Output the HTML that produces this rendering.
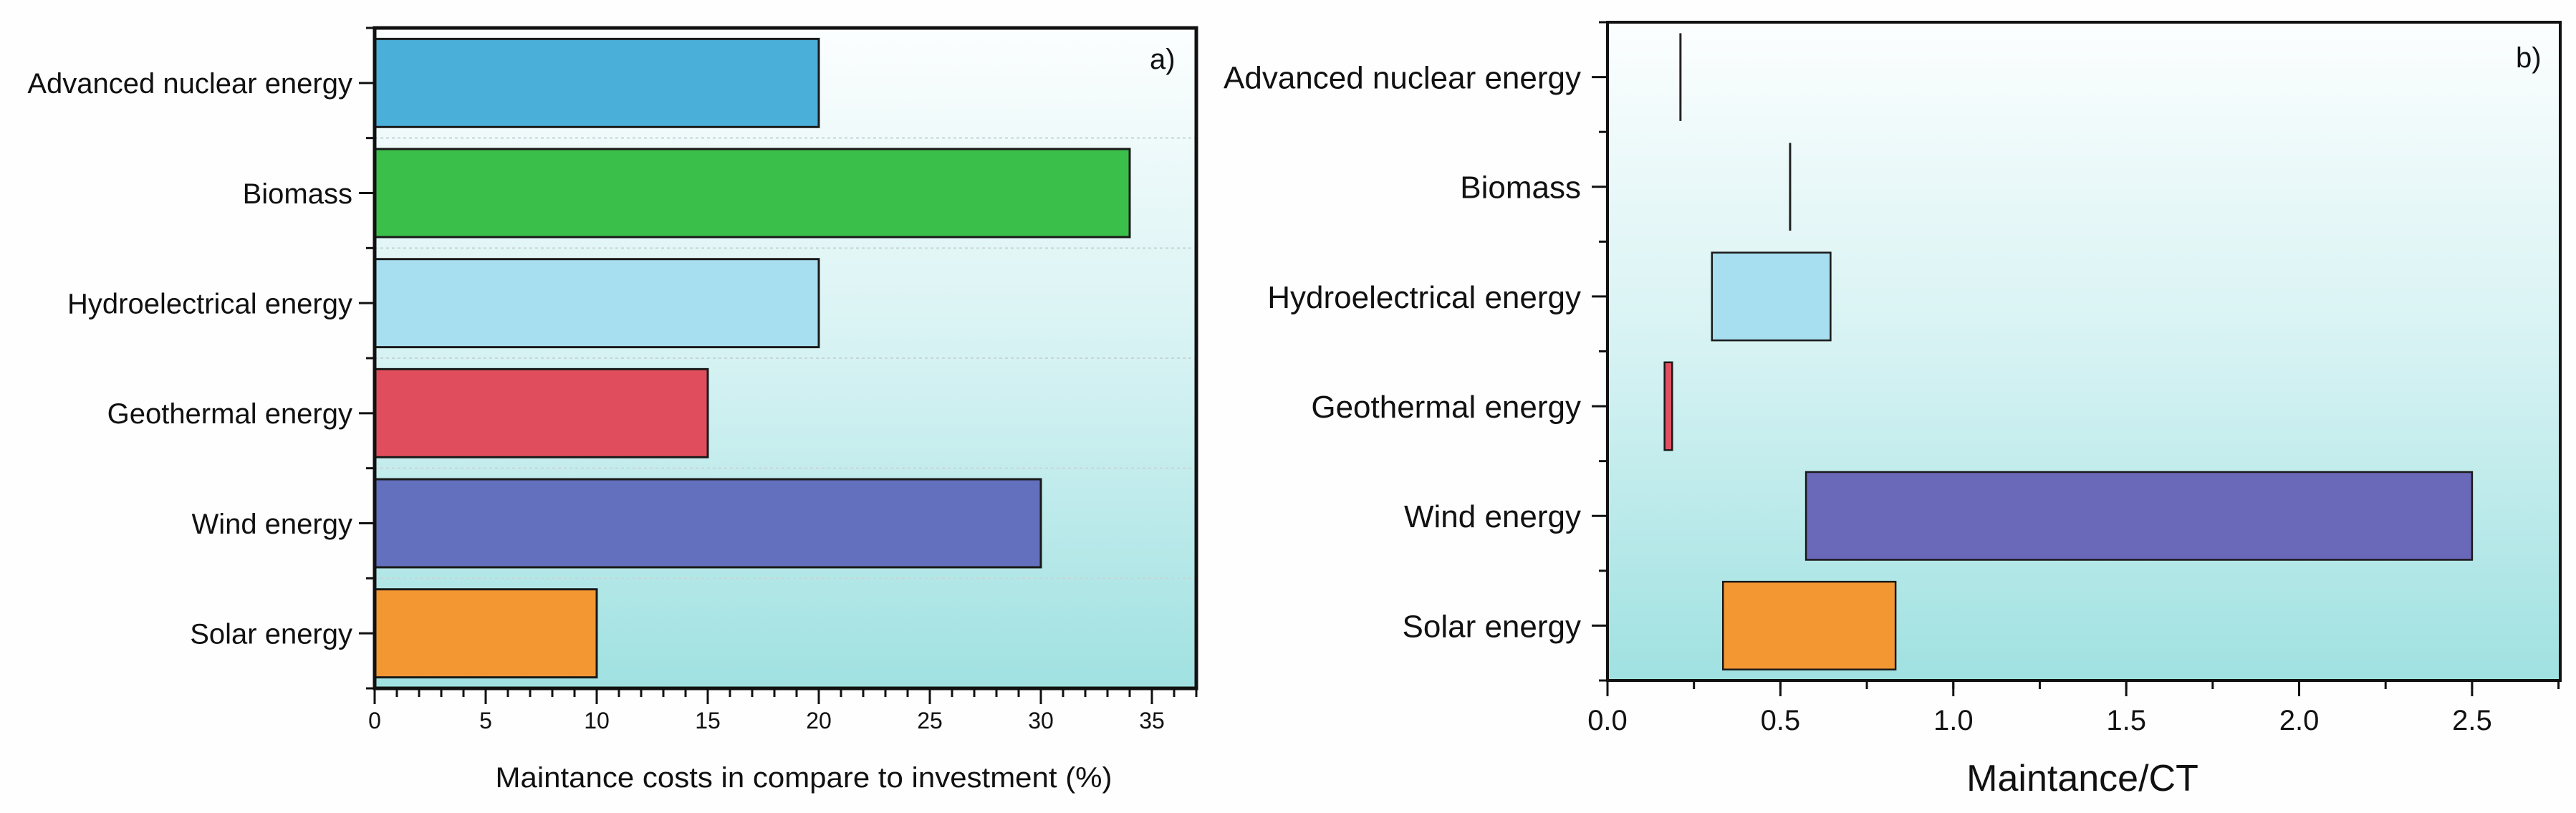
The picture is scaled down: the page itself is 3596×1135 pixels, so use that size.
<!DOCTYPE html>
<html><head><meta charset="utf-8">
<style>
html,body{margin:0;padding:0;background:#fefefe;}
svg{display:block;font-family:"Liberation Sans",Arial,sans-serif;}
</style></head>
<body>
<svg id="chart" width="3596" height="1135" viewBox="0 0 3596 1135" xmlns="http://www.w3.org/2000/svg">
<defs>
<linearGradient id="bg" x1="0" y1="0" x2="0" y2="1">
<stop offset="0" stop-color="#fcfefe"/>
<stop offset="0.5" stop-color="#d6f2f3"/>
<stop offset="1" stop-color="#a0e1e1"/>
</linearGradient>
</defs>
</svg>
<script>
const categories = ["Advanced nuclear energy","Biomass","Hydroelectrical energy","Geothermal energy","Wind energy","Solar energy"];
const costPercent = [20, 34, 20, 15, 30, 10];
const ratioLow = [0.211, 0.528, 0.302, 0.165, 0.574, 0.334];
const ratioHigh = [0.211, 0.528, 0.645, 0.187, 2.5, 0.833];
const leftTicks = [0, 5, 10, 15, 20, 25, 30, 35];
const rightTicks = [0.0, 0.5, 1.0, 1.5, 2.0, 2.5];
const leftColors = ["#4aafd9","#3bbf4b","#a8dff0","#e04e5e","#6370bd","#f39733"];
const rightColors = ["#4aafd9","#3bbf4b","#a8dff0","#e05060","#6a68b8","#f39733"];

const NS = "http://www.w3.org/2000/svg";
const svg = document.getElementById("chart");
function mk(tag, attrs, parent){
  const e = document.createElementNS(NS, tag);
  for (const k in attrs) e.setAttribute(k, attrs[k]);
  (parent||svg).appendChild(e);
  return e;
}

function panel(cfg){
  const g = mk("g", {});
  
  
  const {x0,x1,y0,y1,xmax} = cfg;
  const sx = v => x0 + v/xmax*(x1-x0);
  const band = (y1-y0)/categories.length;
  const sy = i => y0 + band*(i+0.5);
  const bg = mk("rect",{x:x0,y:y0,width:x1-x0,height:y1-y0,fill:"url(#bg)"},g);
  
  
  if (cfg.separators){
    for (let i=1;i<categories.length;i++){
      const l = mk("line",{x1:x0,x2:x1,y1:y0+band*i,y2:y0+band*i,stroke:"#c8d4d6","stroke-width":2,"stroke-dasharray":"4 4"},g);
      
      
    }
  }
  categories.forEach((c,i)=>{
    const lo = cfg.lo[i], hi = cfg.hi[i];
    const bh = band*0.8;
    const yc = sy(i);
    if (hi - lo < 1e-6){
      const l = mk("line",{x1:sx(lo),x2:sx(lo),y1:yc-bh/2,y2:yc+bh/2,stroke:"#222","stroke-width":3},g);
      
      
    } else {
      const r = mk("rect",{x:sx(lo),y:yc-bh/2,width:sx(hi)-sx(lo),height:bh,fill:cfg.colors[i],stroke:"#1a1a1a","stroke-width":cfg.sw},g);
      
      
    }
    const t = mk("line",{x1:x0-22,x2:x0,y1:yc,y2:yc,stroke:"#111","stroke-width":3},g);
    
    
    const tx = mk("text",{x:cfg.labelX,y:yc+cfg.labelFs*0.36,"text-anchor":"end","font-size":cfg.labelFs,fill:"#111"},g);
    tx.textContent = c;
    
    
  });
  for (let i=0;i<=categories.length;i++){
    const t = mk("line",{x1:x0-12,x2:x0,y1:y0+band*i,y2:y0+band*i,stroke:"#111","stroke-width":3},g);
    
    
  }
  for (let v=0; v<=xmax+1e-9; v+=cfg.minor){
    const t = mk("line",{x1:sx(v),x2:sx(v),y1:y1,y2:y1+12,stroke:"#111","stroke-width":3},g);
    
    
  }
  cfg.ticks.forEach(v=>{
    const t = mk("line",{x1:sx(v),x2:sx(v),y1:y1,y2:y1+22,stroke:"#111","stroke-width":3},g);
    
    
    const tx = mk("text",{x:sx(v),y:cfg.tickY,"text-anchor":"middle","font-size":cfg.tickFs,fill:"#111"},g);
    tx.textContent = cfg.fmt(v);
    
    
  });
  const f = mk("rect",{x:x0,y:y0,width:x1-x0,height:y1-y0,fill:"none",stroke:"#111","stroke-width":cfg.fw},g);
  
  
  const ti = mk("text",{x:cfg.titleX,y:cfg.titleY,"text-anchor":"middle","font-size":cfg.titleFs,fill:"#111"},g);
  ti.textContent = cfg.title;
  if (cfg.titleLen){ ti.setAttribute("textLength", cfg.titleLen); ti.setAttribute("lengthAdjust","spacingAndGlyphs"); }
  
  
  const pl = mk("text",{x:cfg.tagX,y:cfg.tagY,"font-size":40,fill:"#111"},g);
  pl.textContent = cfg.tag;
  
  
}

panel({name:"panel-a", x0:523, x1:1670, y0:39, y1:961, xmax:37, separators:true,
  lo: costPercent.map(()=>0), hi: costPercent, colors: leftColors, sw:3,
  ticks: leftTicks, minor:1, fmt: v=>String(v), tickY:1017, tickFs:32,
  labelX:492, labelFs:40, fw:5,
  title:"Maintance costs in compare to investment (%)", titleX:1122, titleY:1099, titleFs:40, titleLen:861,
  tag:"a)", tagX:1605, tagY:96});

panel({name:"panel-b", x0:2244, x1:3574, y0:31, y1:950, xmax:2.755, separators:false,
  lo: ratioLow, hi: ratioHigh, colors: rightColors, sw:2.5,
  ticks: rightTicks, minor:0.25, fmt: v=>v.toFixed(1), tickY:1019, tickFs:40,
  labelX:2207, labelFs:44, fw:4,
  title:"Maintance/CT", titleX:2907, titleY:1104, titleFs:52, titleLen:0,
  tag:"b)", tagX:3512, tagY:94});
</script>
</body></html>
